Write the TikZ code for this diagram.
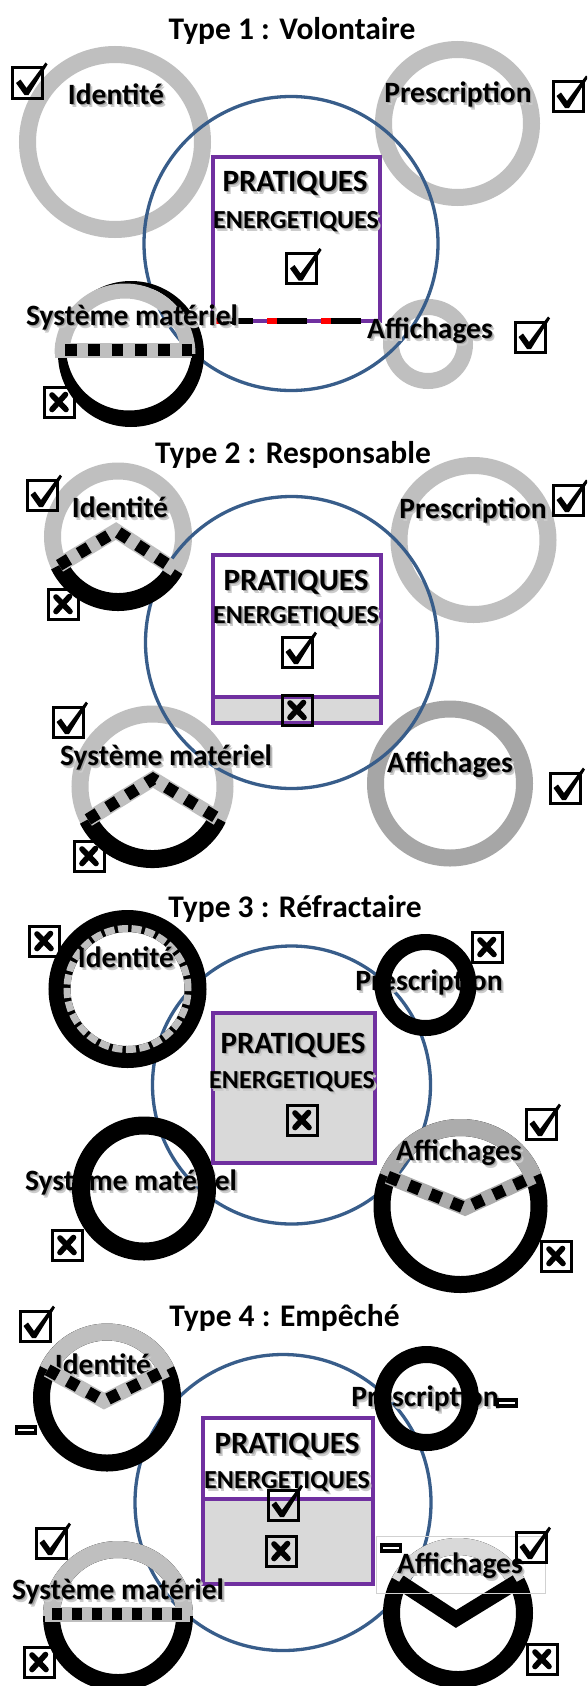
\documentclass[tikz,border=0pt]{standalone}
\usepackage{fontspec}
\setmainfont{Carlito}
\usetikzlibrary{calc}
\definecolor{ringgray}{RGB}{191,191,191}
\definecolor{ringgrayd}{RGB}{166,166,166}
\definecolor{capgray}{RGB}{172,172,172}
\definecolor{lightfill}{RGB}{217,217,217}
\definecolor{purp}{RGB}{112,48,160}
\definecolor{bluec}{RGB}{56,93,138}
\tikzset{
 ttl/.style={anchor=base, font=\bfseries\fontsize{31.5}{33}\selectfont, inner sep=0pt},
 labtxt/.style={anchor=base, font=\bfseries\fontsize{29.5}{31}\selectfont, inner sep=0pt},
 prat/.style={font=\bfseries\fontsize{31}{33}\selectfont},
 ener/.style={font=\bfseries\fontsize{26}{28}\selectfont},
 cbox/.style={draw, line width=3pt, minimum size=30pt, inner sep=0pt},
 mbox/.style={draw, line width=3.5pt, minimum width=19pt, minimum height=6pt, inner sep=0pt, fill=white},
 bluecirc/.style={draw=bluec, line width=3.3pt},
 purprect/.style={draw=purp, line width=4.5pt},
 chordgray/.style={draw=ringgray, line width=15pt},
 chorddash/.style={draw=black, line width=12pt, dash pattern=on 11.5pt off 11.5pt},
}
\newcommand\lab[5][]{%
 \node[labtxt, text=black!20, #1] (#2s) at (#3+2.6,#4+3) {#5};
 \node[labtxt, text=black!38, #1] (#2r) at (#3+1.4,#4+1.7) {#5};
 \node[labtxt, #1] (#2) at (#3,#4) {#5};}
\newcommand\chk[3]{\node[cbox] (#1) at (#2,#3) {};
 \fill[shift={(#1.center)}] (-11.5,0) -- (-7,-3.5) -- (-1,5) -- (18,-20.5) -- (20,-18.5) -- (1,12) -- (-3,12) -- cycle;}
\newcommand\crs[3]{\node[cbox] (#1) at (#2,#3) {};
 \draw[shift={(#1.center)}, line width=5.6pt, line cap=round] (-7,-7) -- (7,7.5) (6.5,-7.5) -- (-7,7.5);}
\newcommand\mns[3]{\node[mbox] (#1) at (#2,#3) {};}
\newcommand\ring[5]{\draw[draw=#1, line width=#4pt] (#2,#3) circle[radius=#5pt];}
\newcommand\rarc[7]{\draw[draw=#1, line width=#4pt] ($(#2,#3)+(#6:#5pt)$) arc[start angle=#6, end angle=#7, radius=#5pt];}
\begin{document}
\begin{tikzpicture}[x=1pt, y=-1pt]
\useasboundingbox (0,0) rectangle (587,1686);
\clip (0,0) rectangle (587,1686);
\fill[white] (0,0) rectangle (587,1686);

% ---------------- Type 1 ----------------
\node[ttl] (t1) at (292,40) {Type 1 : Volontaire};
\ring{ringgray}{115}{142}{17}{87.5}
\ring{ringgray}{457.5}{123.5}{17}{74}
\ring{ringgray}{428}{344}{16}{37}
\draw[bluecirc] (291,243.5) circle[radius=147pt];
\fill[black, even odd rule] (131,354) circle[radius=73pt] (129,347.5) circle[radius=63pt];
\rarc{ringgray}{125}{354}{15}{63}{0}{180}
\draw[chordgray] (55,350) -- (192,350);
\draw[chorddash, dash pattern=on 11.7pt off 11.6pt] (65,350) -- (192,350);
\draw[purprect] (213,157) rectangle (380,321);
\draw[black, line width=6pt, dash pattern=on 30pt off 24pt] (223,321) -- (378,321);
\draw[red, line width=6pt, dash pattern=on 10pt off 44pt] (213,321) -- (370,321);
\lab{l1i}{116}{104}{Identité}
\lab{l1p}{458}{102}{Prescription}
\lab{l1a}{430}{338}{Affichages}
\lab{l1s}{132}{325}{Système matériel}
\lab[prat]{l1pr}{295}{191}{PRATIQUES}
\lab[ener]{l1en}{296}{228}{ENERGETIQUES}
\chk{b1i}{27.5}{83}
\chk{b1p}{568}{96}
\chk{b1a}{530}{337}
\chk{b1c}{301.5}{268.5}
\crs{b1s}{59}{402}

% ---------------- Type 2 ----------------
\node[ttl] (t2) at (293,463) {Type 2 : Responsable};
\ring{ringgray}{118}{536.5}{17}{65.5}
\ring{ringgray}{473.5}{540}{17}{74.5}
\ring{ringgray}{152.5}{786.5}{17}{72.5}
\ring{ringgrayd}{450}{783.5}{17}{74.5}
\draw[bluecirc] (291.5,642.5) circle[radius=146pt];
\rarc{black}{118}{536.5}{18}{65.5}{206}{330}
\rarc{black}{152.5}{786.5}{18}{72.5}{207}{334}
\draw[chordgray] ($(118,536.5)+(206:65.5pt)$) -- (116,531) -- ($(118,536.5)+(330:65.5pt)$);
\draw[chorddash] ($(118,536.5)+(206:65.5pt)$) -- (116,531) -- ($(118,536.5)+(330:65.5pt)$);
\draw[chordgray] ($(152.5,786.5)+(207:72.5pt)$) -- (153,779) -- ($(152.5,786.5)+(334:72.5pt)$);
\draw[chorddash] ($(152.5,786.5)+(207:72.5pt)$) -- (153,779) -- ($(152.5,786.5)+(334:72.5pt)$);
\draw[purprect, fill=white] (213,555) rectangle (381,697);
\draw[purprect, fill=lightfill] (213,697) rectangle (381,723);
\lab{l2i}{120}{517}{Identité}
\lab{l2p}{473}{518}{Prescription}
\lab{l2s}{166}{765}{Système matériel}
\lab{l2a}{450}{772}{Affichages}
\lab[prat]{l2pr}{296}{590}{PRATIQUES}
\lab[ener]{l2en}{296}{623}{ENERGETIQUES}
\chk{b2i}{42}{495}
\crs{b2ix}{63}{604}
\chk{b2p}{568}{500}
\chk{b2s}{68}{722}
\crs{b2sx}{89}{856}
\chk{b2a}{565}{788}
\chk{b2c}{297}{652}
\crs{b2cx}{297}{710}

% ---------------- Type 3 ----------------
\node[ttl] (t3) at (295,917) {Type 3 : Réfractaire};
\draw[bluecirc] (291.5,1085) circle[radius=139pt];
\lab{l3p}{429}{990}{Prescription}
\lab{l3s}{131}{1190}{Système matériel}
\ring{black}{127.5}{989}{22}{68}
\draw[draw=ringgray, line width=7pt, dash pattern=on 10pt off 3.5pt] (127.5,989) circle[radius=60.5pt];
\ring{black}{425.5}{985}{16}{43}
\ring{black}{144}{1188.5}{18}{63}
\ring{black}{460.5}{1206}{17}{78.5}
\rarc{capgray}{460.5}{1206}{17}{78.5}{22}{158}
\draw[draw=capgray, line width=15pt] ($(460.5,1206)+(158:78.5pt)$) -- (465,1208) -- ($(460.5,1206)+(22:78.5pt)$);
\draw[chorddash] ($(460.5,1206)+(158:78.5pt)$) -- (465,1208) -- ($(460.5,1206)+(22:78.5pt)$);
\draw[purprect, fill=lightfill] (213,1013) rectangle (375,1163);
\lab{l3i}{126}{967}{Identité}
\lab{l3a}{459}{1160}{Affichages}
\lab[prat]{l3pr}{293}{1053}{PRATIQUES}
\lab[ener]{l3en}{292}{1088}{ENERGETIQUES}
\crs{b3i}{44}{941}
\crs{b3p}{487}{947}
\crs{b3s}{67}{1245}
\chk{b3a}{541}{1124}
\crs{b3ax}{556}{1256}
\crs{b3c}{302}{1120}

% ---------------- Type 4 ----------------
\node[ttl] (t4) at (284.5,1326) {Type 4 : Empêché};
\draw[bluecirc] (283,1502.5) circle[radius=148pt];
\lab{l4p}{425}{1406}{Prescription}
\ring{black}{107}{1397.5}{17}{65.5}
\ring{black}{426.5}{1398.5}{17}{44}
\ring{black}{118}{1616}{17}{66.5}
\ring{black}{458}{1613}{17}{66.5}
\rarc{ringgray}{107}{1397.5}{17}{65.5}{25}{155}
\rarc{ringgray}{118}{1616}{17}{66.5}{0}{180}
\rarc{lightfill}{458}{1613}{17}{66.5}{28}{152}
\lab{l4i}{103}{1374}{Identité}
\draw[chordgray] ($(107,1397.5)+(155:65.5pt)$) -- (104,1401) -- ($(107,1397.5)+(25:65.5pt)$);
\draw[chorddash] ($(107,1397.5)+(155:65.5pt)$) -- (104,1401) -- ($(107,1397.5)+(25:65.5pt)$);
\draw[chordgray] (45,1614) -- (190,1614);
\draw[chorddash, dash pattern=on 10pt off 10pt] (52,1614) -- (184,1614);
\draw[black, line width=15pt] ($(458,1613)+(152:66.5pt)$) -- (456,1619) -- ($(458,1613)+(28:66.5pt)$);
\draw[purprect, fill=white] (203,1418) rectangle (373,1499);
\draw[purprect, fill=lightfill] (203,1499) rectangle (373,1584);
\draw[draw=black!18, line width=1pt] (376,1536) rectangle (545,1593);
\lab{l4s}{118}{1599}{Système matériel}
\lab{l4a}{460}{1573}{Affichages}
\lab[prat]{l4pr}{287}{1453}{PRATIQUES}
\lab[ener]{l4en}{287}{1488}{ENERGETIQUES}
\chk{b4i}{35}{1326}
\mns{m4i}{26}{1430}
\mns{m4p}{507}{1403}
\mns{m4c}{391}{1548}
\chk{b4s}{51}{1543}
\crs{b4sx}{39}{1662}
\chk{b4a}{531}{1547}
\crs{b4ax}{542}{1659}
\chk{b4c}{283}{1505}
\crs{b4cx}{281}{1551}
\end{tikzpicture}
\end{document}
